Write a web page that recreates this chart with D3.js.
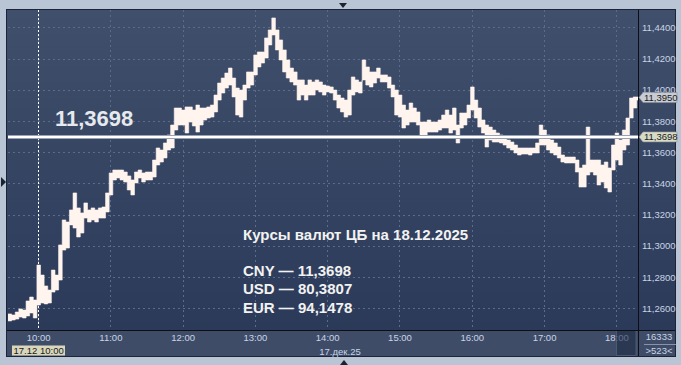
<!DOCTYPE html>
<html><head><meta charset="utf-8">
<script src="https://cdn.jsdelivr.net/npm/d3@7"></script>
<style>body{margin:0;background:#b9c5d5;overflow:hidden}svg{display:block}</style>
</head><body><svg id="c" width="681" height="365"></svg>
<script>
// ---------- data ----------
const startTime = "09:35";
const stepMinutes = 3;
const barCount = 523;
const hi = [11.2564,11.2557,11.2576,11.2596,11.2589,11.2647,11.2672,11.2653,11.2877,11.2813,
11.2743,11.2717,11.2845,11.2813,11.3006,11.3166,11.3153,11.3230,11.3339,11.3243,
11.3211,11.3275,11.3230,11.3243,11.3230,11.3243,11.3249,11.3339,11.3467,11.3486,
11.3486,11.3486,11.3473,11.3448,11.3422,11.3473,11.3486,11.3467,11.3473,11.3473,
11.3550,11.3627,11.3614,11.3659,11.3710,11.3774,11.3883,11.3883,11.3870,11.3890,
11.3890,11.3870,11.3902,11.3883,11.3883,11.3890,11.3902,11.3966,11.4043,11.4075,
11.4107,11.4139,11.4075,11.4011,11.3998,11.4030,11.4114,11.4114,11.4223,11.4242,
11.4242,11.4332,11.4383,11.4460,11.4383,11.4319,11.4255,11.4191,11.4139,11.4114,
11.4063,11.4063,11.4030,11.4063,11.4050,11.4063,11.4050,11.4030,11.4024,11.4018,
11.3998,11.3966,11.3947,11.3934,11.3998,11.4082,11.4063,11.4050,11.4191,11.4146,
11.4114,11.4114,11.4139,11.4095,11.4095,11.4082,11.4030,11.3998,11.3966,11.3902,
11.3870,11.3915,11.3883,11.3858,11.3793,11.3793,11.3806,11.3793,11.3793,11.3806,
11.3838,11.3870,11.3838,11.3883,11.3774,11.3851,11.3851,11.3902,11.4018,11.3934,
11.3883,11.3806,11.3774,11.3761,11.3742,11.3723,11.3710,11.3697,11.3678,11.3665,
11.3646,11.3627,11.3627,11.3627,11.3627,11.3627,11.3659,11.3774,11.3742,11.3710,
11.3678,11.3659,11.3633,11.3582,11.3569,11.3569,11.3569,11.3550,11.3499,11.3518,
11.3761,11.3550,11.3550,11.3550,11.3518,11.3537,11.3499,11.3646,11.3723,11.3678,
11.3742,11.3819,11.3947,11.3954,11.3954];
const lo = [11.2519,11.2525,11.2531,11.2544,11.2538,11.2551,11.2570,11.2538,11.2621,11.2634,
11.2628,11.2634,11.2704,11.2717,11.2781,11.2973,11.2986,11.3134,11.3114,11.3057,
11.3082,11.3178,11.3153,11.3166,11.3153,11.3178,11.3178,11.3217,11.3326,11.3422,
11.3435,11.3422,11.3409,11.3358,11.3326,11.3403,11.3435,11.3409,11.3422,11.3422,
11.3441,11.3518,11.3537,11.3563,11.3614,11.3627,11.3742,11.3774,11.3774,11.3723,
11.3793,11.3768,11.3729,11.3774,11.3806,11.3819,11.3825,11.3858,11.3934,11.3979,
11.4011,11.4030,11.3954,11.3838,11.3825,11.3934,11.4011,11.4030,11.4095,11.4146,
11.4171,11.4203,11.4287,11.4351,11.4255,11.4191,11.4114,11.4075,11.4050,11.4030,
11.3934,11.3966,11.3934,11.3966,11.3966,11.3998,11.3986,11.3966,11.3986,11.3979,
11.3934,11.3883,11.3858,11.3825,11.3838,11.3966,11.3986,11.3979,11.4063,11.4030,
11.4018,11.4043,11.4075,11.4050,11.4050,11.4011,11.3954,11.3838,11.3825,11.3755,
11.3774,11.3793,11.3793,11.3774,11.3710,11.3710,11.3729,11.3729,11.3729,11.3742,
11.3755,11.3755,11.3723,11.3742,11.3659,11.3755,11.3774,11.3819,11.3870,11.3819,
11.3761,11.3723,11.3633,11.3678,11.3665,11.3665,11.3659,11.3646,11.3627,11.3614,
11.3595,11.3582,11.3588,11.3588,11.3582,11.3595,11.3595,11.3646,11.3646,11.3614,
11.3595,11.3582,11.3563,11.3537,11.3531,11.3531,11.3531,11.3473,11.3377,11.3377,
11.3454,11.3473,11.3454,11.3390,11.3409,11.3371,11.3345,11.3486,11.3550,11.3518,
11.3614,11.3646,11.3819,11.3883,11.3934];
const priceTicks = [11.26, 11.28, 11.30, 11.32, 11.34, 11.36, 11.38, 11.40, 11.42, 11.44];
const hourTicks = ["10:00","11:00","12:00","13:00","14:00","15:00","16:00","17:00","18:00"];
const cbRate = 11.3698;
const lastPrice = 11.3950;
const cursorTime = "10:00";
const cursorLabel = "17.12 10:00";
const dateLabel = "17.дек.25";
const titleText = "Курсы валют ЦБ на 18.12.2025";
const currencies = ["CNY", "USD", "EUR"];
const rateValues = [11.3698, 80.3807, 94.1478];
const infoTop = "16333";
const infoBottom = ">523<";

// ---------- helpers ----------
const parse = s => +s.slice(0,2)*60 + +s.slice(3);
const fmt4 = v => d3.format(".4f")(v).replace(".", ",");
const t0 = parse(startTime);
const bars = hi.map((h,i)=>({t: t0 + i*stepMinutes, hi: h, lo: lo[i]}));
bars.push({t: t0 + hi.length*stepMinutes, hi: hi[hi.length-1], lo: lo[lo.length-1]});

const L = 8, R = 638, T = 10, B = 330, PR = 675, PB = 356;
const x = d3.scaleLinear().domain([t0, t0 + barCount]).range([L, R]);
const y = d3.scaleLinear().domain([11.26, 11.44]).range([308.3, 27.3]);
const tf = "'Liberation Sans', Arial, sans-serif";

const svg = d3.select("#c");
const defs = svg.append("defs");
const g = defs.append("linearGradient").attr("id","bg").attr("x1",0).attr("y1",0).attr("x2",0).attr("y2",1);
g.append("stop").attr("offset","0%").attr("stop-color","#404f6b");
g.append("stop").attr("offset","100%").attr("stop-color","#2b3a59");
defs.append("clipPath").attr("id","clip").append("rect").attr("x",L).attr("y",T).attr("width",R-L).attr("height",B-T);

// frame
svg.append("rect").attr("x",0).attr("y",0).attr("width",681).attr("height",365).attr("fill","#b9c5d5");
svg.append("rect").attr("x",L-1).attr("y",T).attr("width",PR-L+1).attr("height",B-T).attr("fill","url(#bg)");
svg.append("rect").attr("x",L-1).attr("y",B).attr("width",PR-L+1).attr("height",PB-B).attr("fill","#3e4c68");
svg.append("rect").attr("x",L-1.5).attr("y",T-0.5).attr("width",PR-L+2).attr("height",PB-T+1)
  .attr("fill","none").attr("stroke","#1c2438").attr("stroke-width",1);

// grid
const grid = svg.append("g").attr("clip-path","url(#clip)");
grid.selectAll("line.h").data(priceTicks).join("line")
  .attr("x1",L).attr("x2",R).attr("y1",d=>Math.round(y(d))+0.5).attr("y2",d=>Math.round(y(d))+0.5)
  .attr("stroke","#5b6c8b").attr("stroke-dasharray","2,3");
grid.selectAll("line.v").data(hourTicks).join("line")
  .attr("y1",T).attr("y2",B).attr("x1",d=>Math.round(x(parse(d)))+0.5).attr("x2",d=>Math.round(x(parse(d)))+0.5)
  .attr("stroke","#5b6c8b").attr("stroke-dasharray","2,3");

// cursor line
svg.append("line").attr("x1",Math.round(x(parse(cursorTime)))+0.5).attr("x2",Math.round(x(parse(cursorTime)))+0.5)
  .attr("y1",T).attr("y2",B).attr("stroke","#ffffff").attr("stroke-dasharray","2,2");

// price series (high-low band)
const area = d3.area().x(d=>x(d.t)).y0(d=>y(d.lo)).y1(d=>y(d.hi)).curve(d3.curveStepAfter);
svg.append("g").attr("clip-path","url(#clip)").append("path").datum(bars)
  .attr("d",area).attr("fill","#fff4ee").attr("stroke","#fff4ee").attr("stroke-width",0.6);

// CB rate level line
const yc = y(cbRate);
svg.append("line").attr("x1",L).attr("x2",R).attr("y1",yc).attr("y2",yc).attr("stroke","#98a2b2").attr("stroke-width",4);
svg.append("line").attr("x1",L).attr("x2",R).attr("y1",yc).attr("y2",yc).attr("stroke","#ffffff").attr("stroke-width",2);
svg.append("text").attr("x",55).attr("y",126).text(fmt4(cbRate))
  .attr("font-family",tf).attr("font-weight","bold").attr("font-size",22).attr("fill","#e6e9ee");

// info text
svg.append("text").attr("x",243).attr("y",239.5).text(titleText)
  .attr("font-family",tf).attr("font-weight","bold").attr("font-size",15).attr("fill","#f2f2f2");
svg.selectAll("text.rate").data(currencies).join("text").attr("class","rate")
  .attr("x",243).attr("y",(d,i)=>276+i*18.3).text((d,i)=>d+" — "+fmt4(rateValues[i]))
  .attr("font-family",tf).attr("font-weight","bold").attr("font-size",15).attr("fill","#f2f2f2");

// right axis
const ay = svg.append("g").attr("transform",`translate(${R},0)`)
  .call(d3.axisRight(y).tickValues(priceTicks).tickSize(0).tickPadding(4).tickFormat(fmt4));
ay.select(".domain").remove();
ay.selectAll("text").attr("font-family",tf).attr("font-size",9.5).attr("fill","#c9d4e6");

// bottom axis
const ax = svg.append("g").attr("transform",`translate(0,${B})`)
  .call(d3.axisBottom(x).tickValues(hourTicks.map(parse)).tickSize(0).tickPadding(4).tickFormat((d,i)=>hourTicks[i]));
ax.select(".domain").remove();
ax.selectAll("text").attr("font-family",tf).attr("font-size",9.5).attr("fill","#c9d4e6");

// scroll indicator (semi-transparent over the 18:00 label)
svg.append("rect").attr("x",616.5).attr("y",B+0.5).attr("width",19.5).attr("height",PB-B-1)
  .attr("fill","#1f2b45").attr("fill-opacity",0.6).attr("stroke","#55647f").attr("stroke-width",0.7);

// axis lines
svg.append("line").attr("x1",L-1).attr("x2",PR).attr("y1",B+0.5).attr("y2",B+0.5).attr("stroke","#0d0f14");
svg.append("line").attr("x1",R+0.5).attr("x2",R+0.5).attr("y1",T).attr("y2",PB).attr("stroke","#0d0f14");

// price tags
function tag(v, fill){
  const yy = y(v), h = 10;
  svg.append("path").attr("d",`M${R+1},${yy} L${R+5},${yy-h/2} L${PR+2},${yy-h/2} L${PR+2},${yy+h/2} L${R+5},${yy+h/2} Z`)
    .attr("fill",fill).attr("stroke","#8a909a").attr("stroke-width",0.6);
  svg.append("text").attr("x",R+6).attr("y",yy+3.4).text(fmt4(v))
    .attr("font-family",tf).attr("font-size",9.5).attr("fill","#1a1a1a");
}
tag(lastPrice, "#c9ccd2");
tag(cbRate, "#d6dac6");

// cursor date label
const cx = x(parse(cursorTime));
svg.append("rect").attr("x",12).attr("y",345.5).attr("width",53).attr("height",10).attr("fill","#d9d6bc");
svg.append("text").attr("x",cx+0.5).attr("y",354).attr("text-anchor","middle").text(cursorLabel)
  .attr("font-family",tf).attr("font-size",9.5).attr("fill","#1a1a1a");
svg.append("text").attr("x",340).attr("y",354.5).attr("text-anchor","middle").text(dateLabel)
  .attr("font-family",tf).attr("font-size",9.5).attr("fill","#c9d4e6");

// info box
svg.append("text").attr("x",659).attr("y",340).attr("text-anchor","middle").text(infoTop)
  .attr("font-family",tf).attr("font-size",9.5).attr("fill","#c9d4e6");
svg.append("line").attr("x1",644).attr("x2",676).attr("y1",344.5).attr("y2",344.5).attr("stroke","#9aa6ba").attr("stroke-width",0.8);
svg.append("text").attr("x",659).attr("y",354).attr("text-anchor","middle").text(infoBottom)
  .attr("font-family",tf).attr("font-size",9.5).attr("fill","#c9d4e6");

// small triangles
svg.append("path").attr("d","M339,3 L347,3 L343,8 Z").attr("fill","#1c2230");
svg.append("path").attr("d","M1,177 L6,182 L1,187 Z").attr("fill","#1c2230");
svg.append("path").attr("d","M340,365 L348,365 L344,360 Z").attr("fill","#1c2230");
</script></body></html>
